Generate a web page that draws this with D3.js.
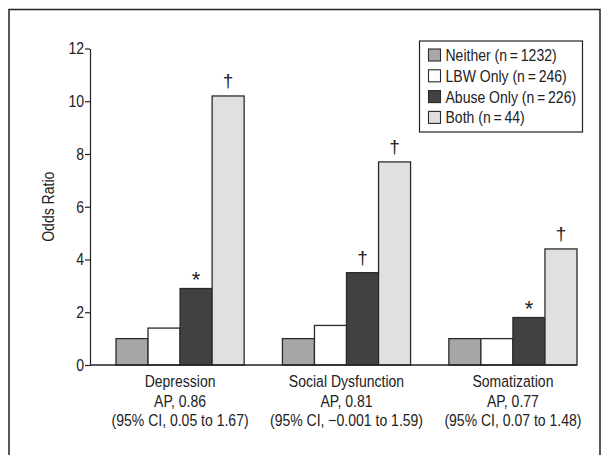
<!DOCTYPE html>
<html>
<head>
<meta charset="utf-8">
<script src="https://cdn.jsdelivr.net/npm/d3@7"></script>
<style>
  body { margin: 0; background: #fff; }
  svg text { font-family: "Liberation Sans", Arial, sans-serif; fill: #222; }
</style>
</head>
<body>
<script>
const categories = ["Depression", "Social Dysfunction", "Somatization"];
const subLabels = [["AP, 0.86", "(95% CI, 0.05 to 1.67)"],
                   ["AP, 0.81", "(95% CI, \u22120.001 to 1.59)"],
                   ["AP, 0.77", "(95% CI, 0.07 to 1.48)"]];
const series = ["Neither", "LBW Only", "Abuse Only", "Both"];
const seriesN = [1232, 246, 226, 44];
const neither = [1.0, 1.0, 1.0];
const lbwOnly = [1.4, 1.5, 1.0];
const abuseOnly = [2.9, 3.5, 1.8];
const both = [10.2, 7.7, 4.4];
const abuseMarks = ["*", "\u2020", "*"];
const bothMarks = ["\u2020", "\u2020", "\u2020"];
const yTicks = [0, 2, 4, 6, 8, 10, 12];

const colors = ["#a7a7aa", "#ffffff", "#414144", "#e0e0e2"];
const values = [neither, lbwOnly, abuseOnly, both];
const marks = [[], [], abuseMarks, bothMarks];

const w = 611, h = 455;
const fs = 16.5;      // font size
const sx = 0.85;      // squeeze to look like a condensed face
const svg = d3.select("body").append("svg").attr("width", w).attr("height", h);

// narrow text helper
function label(parent, x, yy, txt, anchor, rot) {
  return parent.append("text")
    .attr("transform", "translate(" + x + "," + yy + ")" + (rot ? " rotate(" + rot + ")" : "") + " scale(" + sx + ",1)")
    .attr("text-anchor", anchor || "middle")
    .attr("font-size", fs)
    .text(txt);
}

// frame
svg.append("rect")
  .attr("x", 9).attr("y", 9.5).attr("width", 591).attr("height", 460)
  .attr("fill", "none").attr("stroke", "#222").attr("stroke-width", 1.5);

const axisX = 90;
const x0 = d3.scaleBand().domain(categories).range([116, 577]).paddingInner(0.23).paddingOuter(0);
const x1 = d3.scaleBand().domain(series).range([0, x0.bandwidth()]);
const y = d3.scaleLinear().domain([0, 12]).range([365, 48.5]);

// y axis
const yAxis = svg.append("g")
  .attr("transform", "translate(" + axisX + ",0)")
  .call(d3.axisLeft(y).tickValues(yTicks).tickSize(5).tickSizeOuter(0));
yAxis.select(".domain").attr("stroke", "#222").attr("stroke-width", 1.2);
yAxis.selectAll(".tick line").attr("stroke", "#222").attr("stroke-width", 1.2);
yAxis.selectAll(".tick text")
  .attr("font-size", fs).attr("x", -7).attr("fill", "#222")
  .attr("transform", "scale(" + sx + ",1)")
  .style("font-family", "\"Liberation Sans\", Arial, sans-serif");

label(svg, 54, y(6), "Odds Ratio", "middle", -90);

// bars
const rows = [];
series.forEach((s, si) => {
  categories.forEach((c, ci) => {
    rows.push({ cat: c, ci: ci, ser: s, si: si, v: values[si][ci], mark: marks[si][ci] });
  });
});

svg.selectAll("rect.bar")
  .data(rows)
  .enter()
  .append("rect")
  .attr("class", "bar")
  .attr("x", d => x0(d.cat) + x1(d.ser))
  .attr("y", d => y(d.v))
  .attr("width", x1.bandwidth())
  .attr("height", d => y(0) - y(d.v))
  .attr("fill", d => colors[d.si])
  .attr("stroke", "#2a2a2a")
  .attr("stroke-width", 1.3);

svg.selectAll("text.mark")
  .data(rows.filter(d => d.mark))
  .enter()
  .append("text")
  .attr("class", "mark")
  .attr("x", d => x0(d.cat) + x1(d.ser) + x1.bandwidth() / 2)
  .attr("y", d => y(d.v) - (d.mark === "*" ? 2 : 9))
  .attr("text-anchor", "middle")
  .attr("font-size", d => d.mark === "*" ? 22 : 19)
  .attr("fill", "#444")
  .text(d => d.mark);

// x axis line
svg.append("line")
  .attr("x1", axisX).attr("x2", x0.range()[1])
  .attr("y1", y(0)).attr("y2", y(0))
  .attr("stroke", "#222").attr("stroke-width", 1.3);

// category labels
categories.forEach((c, i) => {
  const cx = x0(c) + x0.bandwidth() / 2;
  label(svg, cx, 387, c);
  label(svg, cx, 406.5, subLabels[i][0]);
  label(svg, cx, 426, subLabels[i][1]);
});

// legend
const lg = svg.append("g").attr("transform", "translate(419.5,41)");
lg.append("rect").attr("width", 163).attr("height", 91)
  .attr("fill", "#fff").attr("stroke", "#222").attr("stroke-width", 1.2);
series.forEach((s, i) => {
  const row = lg.append("g").attr("transform", "translate(9," + (14 + i * 20.8) + ")");
  row.append("rect").attr("x", 0).attr("y", -6).attr("width", 12).attr("height", 12)
    .attr("fill", colors[i]).attr("stroke", "#2a2a2a").attr("stroke-width", 1.1);
  label(row, 17, 6, s + " (n\u2009=\u2009" + seriesN[i] + ")", "start");
});
</script>
</body>
</html>
